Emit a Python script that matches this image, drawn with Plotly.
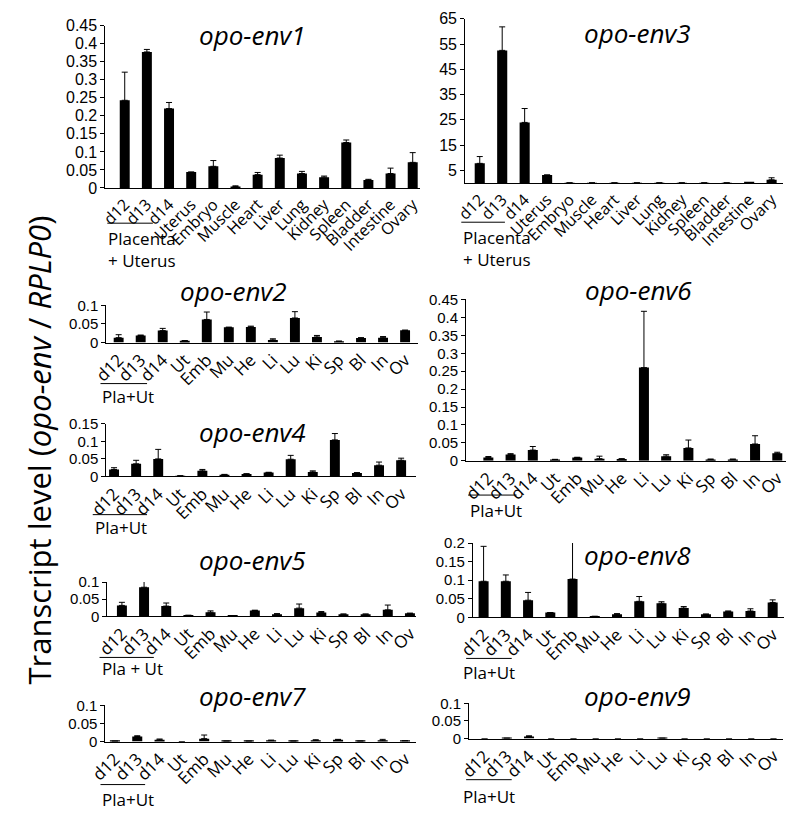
import plotly.graph_objects as go

W, H = 796, 819

full_labels = ["d12", "d13", "d14", "Uterus", "Embryo", "Muscle", "Heart", "Liver",
               "Lung", "Kidney", "Spleen", "Bladder", "Intestine", "Ovary"]
short_labels = ["d12", "d13", "d14", "Ut", "Emb", "Mu", "He", "Li",
                "Lu", "Ki", "Sp", "Bl", "In", "Ov"]

env1 = [0.243, 0.377, 0.220, 0.044, 0.060, 0.004, 0.037, 0.083, 0.040, 0.030, 0.126, 0.022, 0.040, 0.071]
env1_err = [0.078, 0.007, 0.017, 0.0, 0.016, 0.002, 0.006, 0.008, 0.006, 0.003, 0.007, 0.002, 0.015, 0.027]

env3 = [7.8, 52.5, 24.0, 3.2, 0.1, 0.1, 0.1, 0.1, 0.1, 0.1, 0.1, 0.1, 0.2, 1.3]
env3_err = [2.7, 9.3, 5.5, 0.0, 0, 0, 0, 0, 0, 0, 0, 0, 0, 0.8]

env2 = [0.013, 0.019, 0.032, 0.005, 0.062, 0.041, 0.042, 0.007, 0.066, 0.015, 0.003, 0.012, 0.013, 0.033]
env2_err = [0.008, 0.001, 0.006, 0.0, 0.020, 0.0, 0.002, 0.003, 0.017, 0.004, 0.001, 0.001, 0.003, 0.0]

env6 = [0.009, 0.018, 0.030, 0.004, 0.009, 0.006, 0.005, 0.260, 0.013, 0.036, 0.004, 0.004, 0.047, 0.021]
env6_err = [0.003, 0.002, 0.010, 0.0, 0.001, 0.007, 0.001, 0.157, 0.004, 0.022, 0.001, 0.001, 0.023, 0.003]

env4 = [0.020, 0.036, 0.050, 0.002, 0.016, 0.005, 0.007, 0.011, 0.049, 0.013, 0.104, 0.010, 0.032, 0.046]
env4_err = [0.005, 0.010, 0.027, 0.0, 0.004, 0.001, 0.001, 0.001, 0.011, 0.003, 0.018, 0.001, 0.009, 0.006]

env5 = [0.032, 0.085, 0.030, 0.003, 0.012, 0.002, 0.017, 0.006, 0.024, 0.011, 0.006, 0.006, 0.019, 0.009]
env5_err = [0.009, 0.020, 0.009, 0.0, 0.004, 0.0, 0.001, 0.002, 0.012, 0.003, 0.001, 0.001, 0.014, 0.0]

env8 = [0.097, 0.097, 0.046, 0.013, 0.103, 0.002, 0.008, 0.043, 0.038, 0.025, 0.008, 0.016, 0.017, 0.040]
env8_err = [0.094, 0.017, 0.021, 0.0, 0.108, 0.001, 0.002, 0.013, 0.004, 0.004, 0.001, 0.001, 0.006, 0.007]

env7 = [0.001, 0.014, 0.005, 0.0, 0.008, 0.001, 0.001, 0.002, 0.001, 0.003, 0.005, 0.001, 0.002, 0.002]
env7_err = [0.0, 0.002, 0.002, 0.0, 0.010, 0.0, 0.0, 0.002, 0.0, 0.002, 0.001, 0.0, 0.004, 0.0]

env9 = [0.0, 0.001, 0.006, 0.0, 0.0, 0.0, 0.0, 0.0, 0.001, 0.0, 0.0, 0.0, 0.0, 0.0]
env9_err = [0.0, 0.0, 0.002, 0.0, 0.0, 0.0, 0.0, 0.0, 0.0, 0.0, 0.0, 0.0, 0.0, 0.0]

ticks_045 = [0, 0.05, 0.1, 0.15, 0.2, 0.25, 0.3, 0.35, 0.4, 0.45]
ticktext_045 = ["0", "0.05", "0.1", "0.15", "0.2", "0.25", "0.3", "0.35", "0.4", "0.45"]
ticks_65 = [5, 15, 25, 35, 45, 55, 65]
ticktext_65 = ["5", "15", "25", "35", "45", "55", "65"]
ticks_01 = [0, 0.05, 0.1]
ticktext_01 = ["0", "0.05", "0.1"]
ticks_015 = [0, 0.05, 0.1, 0.15]
ticktext_015 = ["0", "0.05", "0.1", "0.15"]
ticks_02 = [0, 0.05, 0.1, 0.15, 0.2]
ticktext_02 = ["0", "0.05", "0.1", "0.15", "0.2"]


def px(x):
    return x / W


def py(y):
    return 1 - y / H


panels = [
    dict(name="opo-env1", v=env1, e=env1_err, lab=full_labels, xd=(88, 412), yd=(17, 183),
         yr=[0, 0.45], xr=[-0.875, 13.31], tv=ticks_045, tt=ticktext_045, title=(240, 27),
         group=dict(line=(90, 137, 219), text="Placenta<br>+ Uterus", tpos=(89, 246)), big=True),
    dict(name="opo-env3", v=env3, e=env3_err, lab=full_labels, xd=(459, 787), yd=(10, 178),
         yr=[0, 65], xr=[-0.65, 13.52], tv=ticks_65, tt=ticktext_65, title=(637, 25),
         group=dict(line=(455, 500, 218), text="Placenta<br>+ Uterus", tpos=(455, 245)), big=True),
    dict(name="opo-env2", v=env2, e=env2_err, lab=short_labels, xd=(89, 410), yd=(303, 341),
         yr=[0, 0.1], xr=[-0.56, 13.57], tv=ticks_01, tt=ticktext_01, title=(220, 288),
         group=dict(line=(83, 131, 383), text="Pla+Ut", tpos=(83, 396)), big=False),
    dict(name="opo-env6", v=env6, e=env6_err, lab=short_labels, xd=(460, 790), yd=(297, 462),
         yr=[0, 0.45], xr=[-1.0, 13.4], tv=ticks_045, tt=ticktext_045, title=(638, 287),
         group=dict(line=(462, 512, 497), text="Pla+Ut", tpos=(462, 513)), big=False),
    dict(name="opo-env4", v=env4, e=env4_err, lab=short_labels, xd=(89, 408), yd=(424, 478),
         yr=[0, 0.15], xr=[-0.35, 13.66], tv=ticks_015, tt=ticktext_015, title=(240, 432),
         group=dict(line=(75, 131, 517), text="Pla+Ut", tpos=(75, 530)), big=False),
    dict(name="opo-env5", v=env5, e=env5_err, lab=short_labels, xd=(90, 408), yd=(586, 621),
         yr=[0, 0.1], xr=[-0.66, 13.26], tv=ticks_01, tt=ticktext_01, title=(240, 563),
         group=dict(line=(82, 138, 663), text="Pla + Ut", tpos=(82, 674)), big=False),
    dict(name="opo-env8", v=env8, e=env8_err, lab=short_labels, xd=(467, 788), yd=(546, 622),
         yr=[0, 0.2], xr=[-0.48, 13.52], tv=ticks_02, tt=ticktext_02, title=(637, 558),
         group=dict(line=(460, 507, 664), text="Pla+Ut", tpos=(455, 678)), big=False),
    dict(name="opo-env7", v=env7, e=env7_err, lab=short_labels, xd=(88, 408), yd=(712, 749),
         yr=[0, 0.1], xr=[-0.43, 13.48], tv=ticks_01, tt=ticktext_01, title=(240, 702),
         group=dict(line=(83, 129, 793), text="Pla+Ut", tpos=(83, 808)), big=False),
    dict(name="opo-env9", v=env9, e=env9_err, lab=short_labels, xd=(463, 787), yd=(710, 746),
         yr=[0, 0.1], xr=[-0.7, 13.44], tv=ticks_01, tt=ticktext_01, title=(637, 702),
         group=dict(line=(460, 507, 788), text="Pla+Ut", tpos=(455, 805)), big=False),
]

fig = go.Figure()
annotations = []
shapes = []
LABEL_FONT = "Open Sans, Noto Sans, sans-serif"
NUM_FONT = "Liberation Sans, Arial, sans-serif"

for i, p in enumerate(panels):
    k = "" if i == 0 else str(i + 1)
    fig.add_trace(go.Bar(
        x=p["lab"], y=p["v"], width=0.45,
        marker=dict(color="black", line=dict(width=0)),
        error_y=dict(type="data", array=p["e"], arrayminus=[0] * len(p["e"]), symmetric=False,
                     color="black", thickness=1, width=3),
        xaxis="x" + k, yaxis="y" + k, showlegend=False,
    ))
    fig.layout["xaxis" + k] = dict(
        domain=[px(p["xd"][0]), px(p["xd"][1])], anchor="y" + k, range=p["xr"],
        type="category", showline=True, linecolor="black", linewidth=1, ticks="",
        showgrid=False, zeroline=False, tickangle=-45, fixedrange=True,
        tickfont=dict(family=LABEL_FONT, size=16 if p["big"] else 17, color="black"),
    )
    fig.layout["yaxis" + k] = dict(
        domain=[py(p["yd"][1]), py(p["yd"][0])], anchor="x" + k, range=p["yr"],
        showline=True, linecolor="black", linewidth=1, ticks="outside", ticklen=4,
        tickcolor="black", tickvals=p["tv"], ticktext=p["tt"], showgrid=False,
        zeroline=False, fixedrange=True,
        tickfont=dict(family=NUM_FONT, size=16 if p["big"] else 15, color="black"),
    )
    annotations.append(dict(
        x=px(p["title"][0]), y=py(p["title"][1]), xref="paper", yref="paper",
        text="<i>" + p["name"] + "</i>", showarrow=False, xanchor="center", yanchor="middle",
        font=dict(family=LABEL_FONT, size=26, color="black"),
    ))
    g = p["group"]
    shapes.append(dict(type="line", xref="paper", yref="paper",
                       x0=px(g["line"][0]), x1=px(g["line"][1]),
                       y0=py(g["line"][2]), y1=py(g["line"][2]),
                       line=dict(color="black", width=1)))
    annotations.append(dict(
        x=px(g["tpos"][0]), y=py(g["tpos"][1]), xref="paper", yref="paper",
        text=g["text"], showarrow=False, xanchor="left", yanchor="middle", align="left",
        font=dict(family=LABEL_FONT, size=17, color="black"),
    ))

annotations.append(dict(
    x=px(20), y=py(451), xref="paper", yref="paper",
    text="Transcript level (<i>opo-env</i> / <i>RPLP0</i>)", textangle=-90,
    showarrow=False, xanchor="center", yanchor="middle",
    font=dict(family=LABEL_FONT, size=31, color="black"),
))

fig.update_layout(
    width=W, height=H, autosize=False,
    margin=dict(l=0, r=0, t=0, b=0),
    paper_bgcolor="white", plot_bgcolor="white",
    annotations=annotations, shapes=shapes,
    bargap=0.55,
)

fig.write_html("out.html", config={"displayModeBar": False},
               post_script="document.body.style.margin='0';document.body.style.overflow='hidden';")
